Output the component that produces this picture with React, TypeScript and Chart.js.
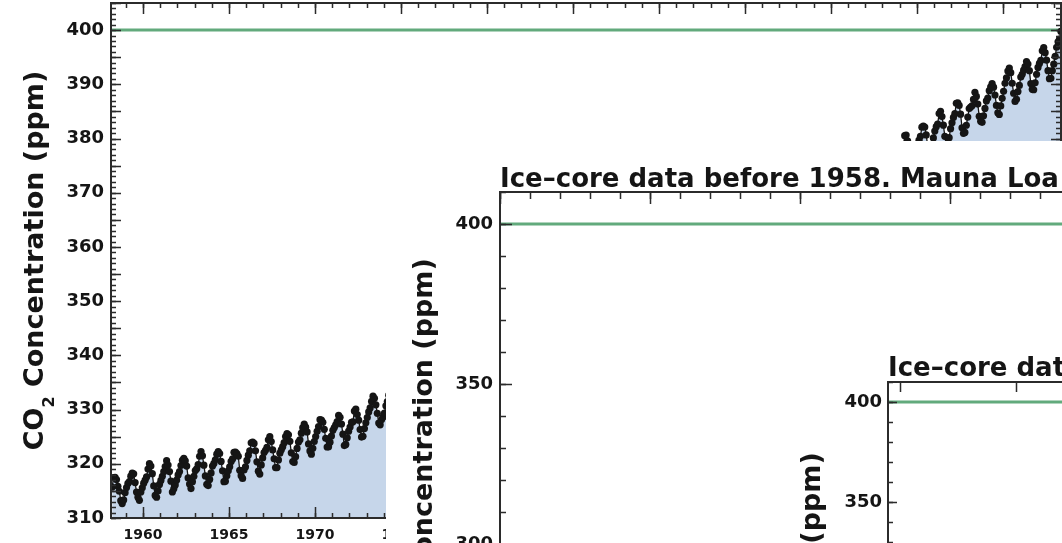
import React, { useEffect, useRef } from 'react';
import { Chart, registerables } from 'chart.js';

Chart.register(...registerables);

const FONT = 'DejaVu Sans';
const INK = '#151515';
const FRAME = '#2b2b2b';
const FILL_BLUE = 'rgb(198,214,234)';
const GREEN = 'rgb(98,170,124)';
const REF_LEVEL = 400;

// ---------- Mauna Loa monthly means (ppm), one row per year, Jan..Dec ----------
const MLO_1958_1969: (number | null)[][] = [
  [null, null, 315.71, 317.45, 317.5, 317.1, 315.86, 314.93, 313.2, 312.66, 313.33, 314.67],
  [315.62, 316.38, 316.71, 317.72, 318.29, 318.15, 316.54, 314.8, 313.84, 313.26, 314.8, 315.58],
  [316.43, 316.97, 317.58, 319.02, 320.03, 319.59, 318.18, 315.91, 314.16, 313.83, 315.0, 316.19],
  [316.93, 317.7, 318.54, 319.48, 320.58, 319.77, 318.57, 316.79, 314.8, 315.38, 316.1, 317.01],
  [317.94, 318.56, 319.68, 320.63, 321.01, 320.55, 319.58, 317.4, 316.26, 315.42, 316.69, 317.69],
  [318.74, 319.08, 319.86, 321.39, 322.25, 321.47, 319.74, 317.77, 316.21, 315.99, 317.12, 318.31],
  [319.57, 320.07, 320.73, 321.77, 322.25, 321.89, 320.44, 318.7, 316.7, 316.79, 317.79, 318.71],
  [319.44, 320.44, 320.89, 322.13, 322.16, 321.87, 321.39, 318.81, 317.81, 317.3, 318.87, 319.42],
  [320.62, 321.59, 322.39, 323.87, 324.01, 323.75, 322.39, 320.37, 318.64, 318.1, 319.79, 321.08],
  [322.07, 322.5, 323.04, 324.42, 325.0, 324.09, 322.55, 320.92, 319.31, 319.31, 320.72, 321.96],
  [322.57, 323.15, 323.89, 325.02, 325.57, 325.36, 324.14, 322.03, 320.41, 320.25, 321.31, 322.84],
  [324.0, 324.42, 325.64, 326.66, 327.34, 326.76, 325.88, 323.67, 322.38, 321.78, 322.85, 324.11],
];
const MLO_1970s: (number | null)[][] = [
  [325.03, 325.99, 326.87, 328.13, 328.07, 327.66, 326.35, 324.69, 323.1, 323.16, 323.98, 325.13],
  [326.17, 326.68, 327.18, 327.78, 328.92, 328.57, 327.34, 325.46, 323.36, 323.57, 324.8, 326.01],
  [326.77, 327.63, 327.75, 329.72, 330.07, 329.09, 328.05, 326.32, 324.93, 325.06, 326.5, 327.55],
  [328.54, 329.56, 330.3, 331.5, 332.48, 332.07, 330.87, 329.31, 327.51, 327.18, 328.16, 328.64],
  [329.35, 330.71, 331.48, 332.65, 333.09, 332.25, 331.18, 329.4, 327.44, 327.37, 328.46, 329.58],
  [330.7, 331.5, 332.2, 333.5, 334.0, 333.4, 331.9, 329.9, 328.1, 328.0, 329.3, 330.7],
  [331.6, 332.5, 333.1, 334.5, 334.9, 334.3, 332.9, 330.9, 329.0, 329.0, 330.2, 331.6],
  [333.4, 334.2, 334.9, 336.2, 336.8, 336.1, 334.6, 332.6, 330.8, 330.7, 332.0, 333.4],
  [335.0, 335.8, 336.5, 337.8, 338.3, 337.7, 336.2, 334.2, 332.4, 332.3, 333.6, 335.0],
  [336.4, 337.2, 337.9, 339.2, 339.8, 339.1, 337.6, 335.6, 333.8, 333.7, 335.0, 336.4],
];
const MLO_1980s: (number | null)[][] = [
  [338.3, 339.1, 339.8, 341.1, 341.7, 341.0, 339.5, 337.5, 335.7, 335.6, 336.9, 338.3],
  [339.7, 340.5, 341.2, 342.5, 343.0, 342.4, 340.9, 338.9, 337.1, 337.0, 338.3, 339.7],
  [341.0, 341.8, 342.5, 343.8, 344.4, 343.7, 342.2, 340.2, 338.4, 338.3, 339.6, 341.0],
  [342.6, 343.4, 344.1, 345.4, 346.0, 345.3, 343.8, 341.8, 340.0, 339.9, 341.2, 342.6],
  [344.2, 345.0, 345.7, 347.0, 347.6, 346.9, 345.4, 343.4, 341.6, 341.5, 342.8, 344.2],
  [345.7, 346.5, 347.2, 348.5, 349.0, 348.4, 346.9, 344.9, 343.1, 343.0, 344.3, 345.7],
  [347.0, 347.8, 348.5, 349.8, 350.3, 349.7, 348.2, 346.2, 344.4, 344.3, 345.6, 347.0],
  [348.8, 349.6, 350.3, 351.6, 352.1, 351.5, 350.0, 348.0, 346.2, 346.1, 347.4, 348.8],
  [351.2, 352.0, 352.7, 354.0, 354.5, 353.9, 352.4, 350.4, 348.6, 348.5, 349.8, 351.2],
  [352.7, 353.5, 354.2, 355.5, 356.0, 355.4, 353.9, 351.9, 350.1, 350.0, 351.3, 352.7],
];
const MLO_1990s: (number | null)[][] = [
  [354.0, 354.8, 355.5, 356.8, 357.3, 356.7, 355.2, 353.2, 351.4, 351.3, 352.6, 354.0],
  [355.2, 356.0, 356.7, 358.0, 358.5, 357.9, 356.4, 354.4, 352.6, 352.5, 353.8, 355.2],
  [356.1, 356.9, 357.6, 358.9, 359.4, 358.8, 357.3, 355.3, 353.5, 353.4, 354.7, 356.1],
  [356.7, 357.5, 358.2, 359.5, 360.0, 359.4, 357.9, 355.9, 354.1, 354.0, 355.3, 356.7],
  [358.4, 359.2, 359.9, 361.2, 361.7, 361.1, 359.6, 357.6, 355.8, 355.7, 357.0, 358.4],
  [360.4, 361.2, 361.9, 363.2, 363.7, 363.1, 361.6, 359.6, 357.8, 357.7, 359.0, 360.4],
  [362.2, 363.0, 363.7, 365.0, 365.5, 364.9, 363.4, 361.4, 359.6, 359.5, 360.8, 362.2],
  [363.3, 364.1, 364.8, 366.1, 366.6, 366.0, 364.5, 362.5, 360.7, 360.6, 361.9, 363.3],
  [366.3, 367.1, 367.8, 369.1, 369.6, 369.0, 367.5, 365.5, 363.7, 363.6, 364.9, 366.3],
  [368.0, 368.8, 369.5, 370.8, 371.3, 370.7, 369.2, 367.2, 365.4, 365.3, 366.6, 368.0],
];
const MLO_2000s: (number | null)[][] = [
  [369.1, 369.9, 370.6, 371.9, 372.5, 371.8, 370.3, 368.3, 366.5, 366.4, 367.7, 369.1],
  [370.7, 371.5, 372.2, 373.5, 374.0, 373.4, 371.9, 369.9, 368.1, 368.0, 369.3, 370.7],
  [372.7, 373.4, 374.3, 375.2, 375.9, 375.5, 374.0, 371.5, 370.7, 370.3, 372.2, 373.7],
  [374.68, 375.63, 376.11, 377.65, 378.35, 378.13, 376.62, 374.5, 372.99, 373.0, 374.35, 375.7],
  [376.79, 377.37, 378.41, 380.52, 380.63, 379.57, 377.79, 375.86, 374.06, 374.24, 375.86, 377.48],
  [378.37, 379.69, 380.41, 382.1, 382.28, 382.13, 380.66, 378.71, 376.98, 377.0, 378.35, 380.11],
  [381.38, 382.19, 382.67, 384.61, 385.03, 384.05, 382.46, 380.41, 378.85, 379.13, 380.15, 381.82],
  [382.89, 383.9, 384.58, 386.5, 386.56, 386.1, 384.5, 381.99, 380.96, 381.12, 382.45, 383.95],
  [385.52, 385.82, 386.03, 387.21, 388.54, 387.76, 386.36, 384.09, 383.18, 382.99, 384.19, 385.56],
  [386.94, 387.48, 388.82, 389.55, 390.14, 389.48, 388.03, 386.11, 384.74, 384.43, 386.02, 387.42],
];
const MLO_2010s: (number | null)[][] = [
  [388.71, 390.2, 391.17, 392.46, 393.0, 392.15, 390.2, 388.35, 386.85, 387.24, 388.67, 389.79],
  [391.33, 391.86, 392.6, 393.25, 394.19, 393.74, 392.51, 390.13, 389.08, 389.0, 390.28, 391.86],
  [393.12, 393.86, 394.4, 396.18, 396.78, 395.83, 394.45, 392.51, 391.04, 391.1, 392.52, 393.71],
  [395.16, 396.84, 397.85, 398.35, 399.76],
];
const MLO_DECADES: [number, (number | null)[][]][] = [
  [1958, MLO_1958_1969],
  [1970, MLO_1970s],
  [1980, MLO_1980s],
  [1990, MLO_1990s],
  [2000, MLO_2000s],
  [2010, MLO_2010s],
];

// ---------- Ice-core (Law Dome style) values before 1958 ----------
const ICE_YEARS = [1700, 1720, 1740, 1760, 1780, 1800, 1820, 1840, 1860, 1880, 1900, 1910, 1920, 1930, 1940, 1950, 1955];
const ICE_PPM = [276.7, 277.4, 277.5, 276.6, 278.3, 282.8, 283.4, 283.8, 286.1, 290.7, 295.7, 299.2, 303.0, 306.3, 310.5, 311.3, 313.7];

// ---------- 800,000-year ice-core record (years relative to present) ----------
const LONG_YEARS = [-800000, -790000, -770000, -750000, -730000, -700000, -690000, -670000, -650000, -630000, -610000, -590000, -570000, -540000, -520000, -500000, -480000, -460000, -440000, -420000, -400000, -380000, -350000, -330000, -310000, -290000, -270000, -250000, -240000, -220000, -200000, -180000, -160000, -140000, -130000, -120000, -100000, -80000, -60000, -40000, -20000, -10000, -200, 0];
const LONG_PPM = [190, 240, 185, 200, 230, 180, 250, 210, 180, 260, 200, 230, 180, 240, 185, 200, 240, 180, 185, 280, 260, 220, 190, 280, 260, 240, 200, 190, 260, 245, 230, 200, 195, 190, 280, 265, 235, 215, 220, 200, 185, 265, 280, 396];

// ---------- axes ----------
const MAIN_X_MIN = 1958.14;
const MAIN_X_MAX = 2013.38;
const MAIN_Y_MIN = 310;
const MAIN_Y_MAX = 405;
const MAIN_X_TICKS = [1960, 1965, 1970, 1975, 1980, 1985, 1990, 1995, 2000, 2005, 2010];
const MAIN_Y_TICKS = [310, 320, 330, 340, 350, 360, 370, 380, 390, 400];

const P2_X_MIN = 1700;
const P2_X_MAX = 2013;
const P2_Y_MIN = 250;
const P2_Y_MAX = 410;
const P2_X_TICKS = [1700, 1750, 1800, 1850, 1900, 1950, 2000];
const P2_Y_TICKS = [250, 300, 350, 400];

const P3_X_MIN = -810000;
const P3_X_MAX = 0;
const P3_Y_MIN = 150;
const P3_Y_MAX = 410;
const P3_X_TICKS = [-800000, -700000, -600000, -500000, -400000, -300000, -200000, -100000, 0];
const P3_Y_TICKS = [150, 200, 250, 300, 350, 400];

const PANEL_TITLE = 'Ice\u2013core data before 1958. Mauna Loa data after 1958.';

function mloPoints() {
  const pts: { x: number; y: number }[] = [];
  MLO_DECADES.forEach(([start, rows]) => {
    rows.forEach((row, i) => {
      row.forEach((v, m) => {
        if (v !== null) pts.push({ x: start + i + (m + 0.5) / 12, y: v });
      });
    });
  });
  return pts;
}

// ---------- plugins ----------
const framePlugin = {
  id: 'frame',
  afterDatasetsDraw(chart: any, _args: any, o: any) {
    const { ctx, chartArea: a, scales } = chart;
    const xs = scales.x;
    const ys = scales.y;
    ctx.save();
    ctx.strokeStyle = FRAME;
    ctx.lineWidth = 1.5;
    const xTicks = (step: number, len: number) => {
      if (!step) return;
      for (let i = Math.ceil(xs.min / step - 1e-9); i * step <= xs.max + 1e-9; i++) {
        const px = Math.round(xs.getPixelForValue(i * step)) + 0.5;
        ctx.beginPath();
        ctx.moveTo(px, a.top);
        ctx.lineTo(px, a.top + len);
        ctx.moveTo(px, a.bottom);
        ctx.lineTo(px, a.bottom - len);
        ctx.stroke();
      }
    };
    const yTicks = (step: number, len: number) => {
      if (!step) return;
      for (let i = Math.ceil(ys.min / step - 1e-9); i * step <= ys.max + 1e-9; i++) {
        const py = Math.round(ys.getPixelForValue(i * step)) + 0.5;
        ctx.beginPath();
        ctx.moveTo(a.left, py);
        ctx.lineTo(a.left + len, py);
        ctx.moveTo(a.right, py);
        ctx.lineTo(a.right - len, py);
        ctx.stroke();
      }
    };
    xTicks(o.xMinor, o.xMinorLen);
    xTicks(o.xMajor, o.xMajorLen);
    yTicks(o.yMinor, o.yMinorLen);
    yTicks(o.yMajor, o.yMajorLen);
    ctx.lineWidth = 2;
    ctx.strokeRect(a.left, a.top, a.right - a.left, a.bottom - a.top);
    ctx.restore();
  },
};

const yTitlePlugin = {
  id: 'ytitle',
  afterDraw(chart: any, _args: any, o: any) {
    const { ctx, chartArea: a } = chart;
    const mainFont = `bold ${o.size}px "${FONT}"`;
    const subFont = `bold ${o.subSize}px "${FONT}"`;
    ctx.save();
    ctx.font = mainFont;
    const w1 = ctx.measureText(o.pre).width;
    const w3 = ctx.measureText(o.post).width;
    ctx.font = subFont;
    const w2 = ctx.measureText(o.sub).width;
    const total = w1 + w2 + w3;
    ctx.translate(a.left - o.offset, (a.top + a.bottom) / 2);
    ctx.rotate(-Math.PI / 2);
    ctx.fillStyle = INK;
    ctx.textAlign = 'left';
    ctx.textBaseline = 'alphabetic';
    let x = -total / 2;
    ctx.font = mainFont;
    ctx.fillText(o.pre, x, 0);
    x += w1;
    ctx.font = subFont;
    ctx.fillText(o.sub, x, o.subShift);
    x += w2;
    ctx.font = mainFont;
    ctx.fillText(o.post, x, 0);
    ctx.restore();
  },
};

const panelTitlePlugin = {
  id: 'ptitle',
  afterDraw(chart: any, _args: any, o: any) {
    const { ctx, chartArea: a } = chart;
    ctx.save();
    ctx.font = `bold ${o.size}px "${FONT}"`;
    ctx.fillStyle = INK;
    ctx.textAlign = 'left';
    ctx.textBaseline = 'alphabetic';
    ctx.fillText(o.text, a.left, a.top - o.gap);
    ctx.restore();
  },
};

const Y_TITLE = { pre: 'CO', sub: '2', post: ' Concentration (ppm)', size: 27, subSize: 16, subShift: 11, offset: 68 };

function axis(min: number, max: number, tickValues: number[], size: { w?: number; h?: number }, fontSize: number, padding: number, fmt?: (v: number) => string) {
  return {
    type: 'linear',
    min,
    max,
    grid: { display: false, drawTicks: false },
    border: { display: false },
    afterBuildTicks: (s: any) => {
      s.ticks = tickValues.map((v) => ({ value: v }));
    },
    afterFit: (s: any) => {
      if (size.w !== undefined) s.width = size.w;
      if (size.h !== undefined) s.height = size.h;
      s.paddingTop = 0;
      s.paddingBottom = 0;
      s.paddingLeft = 0;
      s.paddingRight = 0;
    },
    ticks: {
      padding,
      maxRotation: 0,
      autoSkip: false,
      color: INK,
      font: { family: FONT, weight: 'bold', size: fontSize },
      callback: (v: number) => (fmt ? fmt(v) : String(v)),
    },
  };
}

function baseOptions(padding: any) {
  return {
    responsive: false,
    animation: false,
    events: [],
    layout: { padding, autoPadding: false },
  };
}

function refLine(xmin: number, xmax: number) {
  return {
    label: 'ref',
    data: [
      { x: xmin, y: REF_LEVEL },
      { x: xmax, y: REF_LEVEL },
    ],
    borderColor: GREEN,
    borderWidth: 3,
    pointRadius: 0,
    fill: false,
    order: 2,
  };
}

function mainConfig() {
  return {
    type: 'line',
    data: {
      datasets: [
        {
          label: 'CO2',
          data: mloPoints(),
          parsing: false,
          borderColor: INK,
          borderWidth: 1.3,
          pointRadius: 3.6,
          pointBackgroundColor: INK,
          pointBorderWidth: 0,
          fill: 'start',
          backgroundColor: FILL_BLUE,
          tension: 0,
          order: 1,
        },
        refLine(MAIN_X_MIN, MAIN_X_MAX),
      ],
    },
    options: {
      ...baseOptions({ top: 3, right: 1, left: 0, bottom: 0 }),
      plugins: {
        legend: { display: false },
        tooltip: { enabled: false },
        frame: { xMinor: 1, xMajor: 5, xMinorLen: 5, xMajorLen: 11, yMinor: 1, yMajor: 5, yMinorLen: 5, yMajorLen: 10 },
        ytitle: Y_TITLE,
      },
      scales: {
        x: axis(MAIN_X_MIN, MAIN_X_MAX, MAIN_X_TICKS, { h: 42 }, 14, 9),
        y: axis(MAIN_Y_MIN, MAIN_Y_MAX, MAIN_Y_TICKS, { w: 111 }, 18, 7),
      },
    },
    plugins: [framePlugin, yTitlePlugin],
  };
}

function panel2Config() {
  const ice = ICE_YEARS.map((yr, i) => ({ x: yr, y: ICE_PPM[i] }));
  return {
    type: 'line',
    data: {
      datasets: [
        {
          label: 'CO2',
          data: [...ice, ...mloPoints()],
          parsing: false,
          borderColor: INK,
          borderWidth: 2,
          pointRadius: 0,
          fill: 'start',
          backgroundColor: FILL_BLUE,
          order: 1,
        },
        refLine(P2_X_MIN, P2_X_MAX),
      ],
    },
    options: {
      ...baseOptions({ top: 51, right: 7, left: 0, bottom: 0 }),
      plugins: {
        legend: { display: false },
        tooltip: { enabled: false },
        frame: { xMinor: 10, xMajor: 50, xMinorLen: 7, xMajorLen: 12, yMinor: 10, yMajor: 50, yMinorLen: 6, yMajorLen: 12 },
        ytitle: Y_TITLE,
        ptitle: { text: PANEL_TITLE, size: 26, gap: 5 },
      },
      scales: {
        x: axis(P2_X_MIN, P2_X_MAX, P2_X_TICKS, { h: 40 }, 14, 9),
        y: axis(P2_Y_MIN, P2_Y_MAX, P2_Y_TICKS, { w: 114 }, 18, 7),
      },
    },
    plugins: [framePlugin, yTitlePlugin, panelTitlePlugin],
  };
}

function panel3Config() {
  const pts = LONG_YEARS.map((yr, i) => ({ x: yr, y: LONG_PPM[i] }));
  return {
    type: 'line',
    data: {
      datasets: [
        {
          label: 'CO2',
          data: pts,
          parsing: false,
          borderColor: INK,
          borderWidth: 2,
          pointRadius: 0,
          fill: 'start',
          backgroundColor: FILL_BLUE,
          order: 1,
        },
        refLine(P3_X_MIN, P3_X_MAX),
      ],
    },
    options: {
      ...baseOptions({ top: 39, right: 8, left: 0, bottom: 0 }),
      plugins: {
        legend: { display: false },
        tooltip: { enabled: false },
        frame: { xMinor: 0, xMajor: 100000, xMinorLen: 0, xMajorLen: 10, yMinor: 10, yMajor: 50, yMinorLen: 5, yMajorLen: 9 },
        ytitle: Y_TITLE,
        ptitle: { text: PANEL_TITLE, size: 26, gap: 6 },
      },
      scales: {
        x: axis(P3_X_MIN, P3_X_MAX, P3_X_TICKS, { h: 40 }, 14, 9, (v) => String(-v / 1000)),
        y: axis(P3_Y_MIN, P3_Y_MAX, P3_Y_TICKS, { w: 102 }, 18, 6),
      },
    },
    plugins: [framePlugin, yTitlePlugin, panelTitlePlugin],
  };
}

function ChartCanvas({ make, width, height }: { make: () => any; width: number; height: number }) {
  const ref = useRef<HTMLCanvasElement | null>(null);
  useEffect(() => {
    if (!ref.current) return;
    const chart = new Chart(ref.current, make());
    return () => chart.destroy();
  }, []);
  return <canvas ref={ref} width={width} height={height} style={{ display: 'block', width, height }} />;
}

export default function App() {
  return (
    <div style={{ position: 'fixed', left: 0, top: 0, width: 1062, height: 543, overflow: 'hidden', background: '#fff' }}>
      <div style={{ position: 'absolute', left: 0, top: 0 }}>
        <ChartCanvas make={mainConfig} width={1062} height={560} />
      </div>
      <div style={{ position: 'absolute', left: 386, top: 141, background: '#fff' }}>
        <ChartCanvas make={panel2Config} width={1060} height={603} />
      </div>
      <div style={{ position: 'absolute', left: 786, top: 343, background: '#fff' }}>
        <ChartCanvas make={panel3Config} width={1050} height={599} />
      </div>
    </div>
  );
}
